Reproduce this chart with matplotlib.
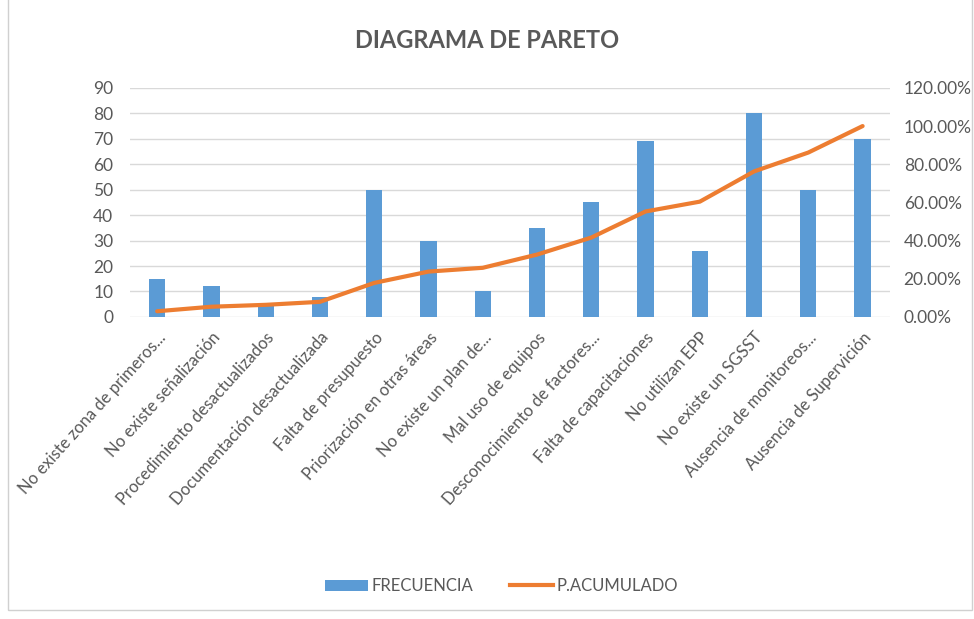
import matplotlib
matplotlib.use("Agg")
import matplotlib.pyplot as plt
from matplotlib.patches import Rectangle, Patch
from matplotlib.lines import Line2D
from matplotlib.ticker import FuncFormatter

plt.rcParams['font.family'] = ['Lato', 'DejaVu Sans']

categories = [
    "No existe zona de primeros...",
    "No existe señalización",
    "Procedimiento desactualizados",
    "Documentación desactualizada",
    "Falta de presupuesto",
    "Priorización en otras áreas",
    "No existe un plan de...",
    "Mal uso de equipos",
    "Desconocimiento de factores...",
    "Falta de capacitaciones",
    "No utilizan EPP",
    "No existe un SGSST",
    "Ausencia de monitoreos...",
    "Ausencia de Supervición",
]
frecuencia = [15, 12, 5, 8, 50, 30, 10, 35, 45, 69, 26, 80, 50, 70]
p_acumulado = [2.97, 5.35, 6.34, 7.92, 17.82, 23.76, 25.74, 32.67, 41.58,
               55.25, 60.40, 76.24, 86.14, 100.0]

gray = '#595959'
blue = '#5B9BD5'
orange = '#ED7D31'

fig = plt.figure(figsize=(9.74, 6.19), dpi=100)
fig.patches.append(Rectangle((0.008, 0.015), 0.99, 0.99, transform=fig.transFigure,
                             fill=False, edgecolor='#d0d0d0', linewidth=1))

ax = fig.add_axes([0.1335, 0.488, 0.78, 0.37])
x = list(range(len(categories)))
ax.bar(x, frecuencia, width=0.3, color=blue, zorder=2)
ax.set_ylim(0, 90)
ax.set_yticks(range(0, 91, 10))
ax.set_xlim(-0.5, len(categories) - 0.5)
ax.grid(axis='y', color='#d9d9d9', linewidth=1, zorder=0)
ax.set_axisbelow(True)
for s in ax.spines.values():
    s.set_visible(False)
ax.tick_params(axis='both', length=0, colors=gray, labelsize=12.5)
ax.tick_params(axis='y', pad=12)
ax.set_xticks(x)
ax.set_xticklabels(categories, rotation=48, ha='right', rotation_mode='anchor',
                   fontsize=12, color=gray)
ax.tick_params(axis='x', pad=9)

ax2 = ax.twinx()
ax2.plot(x, p_acumulado, color=orange, linewidth=3, solid_capstyle='round', zorder=3)
ax2.set_ylim(0, 120)
ax2.set_yticks(range(0, 121, 20))
ax2.yaxis.set_major_formatter(FuncFormatter(lambda v, p: f"{v:.2f}%"))
for s in ax2.spines.values():
    s.set_visible(False)
ax2.tick_params(axis='y', length=0, colors=gray, labelsize=12.5, pad=10)

fig.text(0.5, 0.935, "DIAGRAMA DE PARETO", ha='center', va='center',
         fontsize=17, fontweight='bold', color=gray)

handles = [Patch(facecolor=blue, edgecolor='none'),
           Line2D([0], [0], color=orange, linewidth=3)]
fig.legend(handles, ["FRECUENCIA", "P.ACUMULADO"], loc='center',
           bbox_to_anchor=(0.515, 0.053), ncol=2, frameon=False, fontsize=12,
           labelcolor=gray, handlelength=2.6, columnspacing=2.2, handletextpad=0.2)

fig.savefig("out.png", dpi=100)
